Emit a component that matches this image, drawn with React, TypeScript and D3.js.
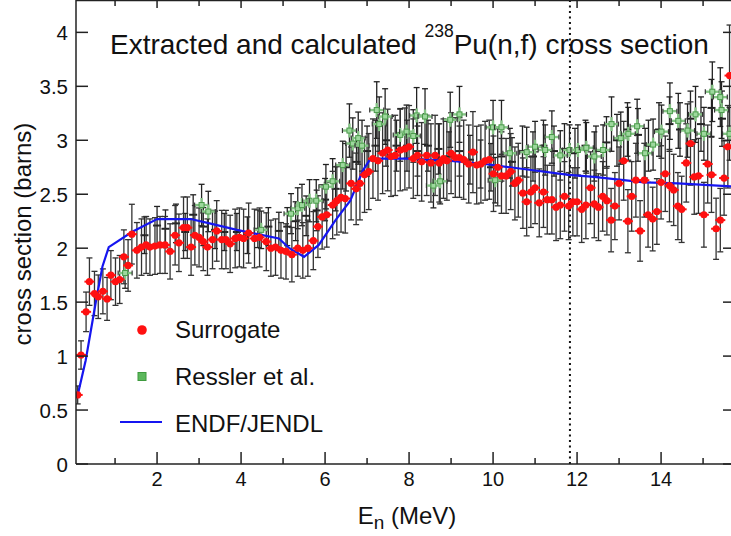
import { scaleLinear, line } from 'd3';

const width = 731;
const height = 536;

// Surrogate (red) points, E in MeV and cross section in barns
const surrogateE = [0.11, 0.19, 0.31, 0.39, 0.51, 0.6, 0.71, 0.81, 0.9, 1.01, 1.11, 1.21, 1.31, 1.4, 1.52, 1.63, 1.74, 1.83, 1.95, 2.07, 2.19, 2.31, 2.43, 2.52, 2.63, 2.72, 2.81, 2.9, 3.0, 3.1, 3.2, 3.32, 3.42, 3.54, 3.64, 3.74, 3.86, 3.96, 4.06, 4.18, 4.32, 4.44, 4.6, 4.71, 4.82, 4.95, 5.07, 5.21, 5.35, 5.47, 5.59, 5.72, 5.83, 5.93, 6.04, 6.18, 6.28, 6.38, 6.48, 6.62, 6.74, 6.83, 6.94, 7.04, 7.14, 7.26, 7.37, 7.49, 7.57, 7.67, 7.79, 7.9, 8.0, 8.1, 8.2, 8.3, 8.42, 8.52, 8.62, 8.72, 8.82, 8.9, 9.0, 9.1, 9.2, 9.3, 9.42, 9.52, 9.61, 9.71, 9.81, 9.91, 10.01, 10.11, 10.2, 10.31, 10.42, 10.52, 10.6, 10.71, 10.8, 10.9, 11.0, 11.1, 11.2, 11.29, 11.4, 11.5, 11.6, 11.7, 11.8, 11.9, 12.0, 12.11, 12.21, 12.32, 12.41, 12.51, 12.61, 12.71, 12.81, 12.9, 13.0, 13.11, 13.21, 13.3, 13.4, 13.5, 13.6, 13.69, 13.8, 13.9, 14.0, 14.1, 14.2, 14.3, 14.4, 14.49, 14.6, 14.7, 14.79, 14.89, 15.02, 15.11, 15.2, 15.31, 15.41, 15.5, 15.59, 15.63];
const surrogateS = [0.64, 1.01, 1.41, 1.69, 1.58, 1.55, 1.6, 1.53, 1.75, 1.69, 1.71, 1.92, 1.84, 2.13, 1.98, 2.01, 2.03, 2.01, 2.02, 2.03, 2.03, 1.97, 2.12, 2.05, 2.19, 2.19, 2.01, 2.12, 2.1, 2.06, 2.01, 2.08, 2.16, 2.08, 2.08, 2.04, 2.09, 2.1, 2.09, 2.14, 2.09, 2.1, 2.06, 2.0, 2.01, 1.98, 1.97, 1.94, 2.0, 1.98, 2.0, 2.07, 2.2, 2.29, 2.31, 2.4, 2.44, 2.47, 2.46, 2.6, 2.55, 2.6, 2.68, 2.71, 2.83, 2.81, 2.88, 2.91, 2.85, 2.86, 2.91, 2.92, 2.94, 2.83, 2.86, 2.8, 2.86, 2.79, 2.86, 2.79, 2.83, 2.81, 2.88, 2.84, 2.84, 2.82, 2.78, 2.89, 2.77, 2.78, 2.81, 2.82, 2.69, 2.75, 2.67, 2.67, 2.71, 2.6, 2.63, 2.51, 2.43, 2.52, 2.56, 2.42, 2.52, 2.45, 2.45, 2.38, 2.4, 2.48, 2.39, 2.43, 2.43, 2.36, 2.4, 2.56, 2.41, 2.38, 2.48, 2.44, 2.26, 2.39, 2.6, 2.81, 2.25, 2.48, 2.63, 2.16, 2.63, 2.31, 2.27, 2.34, 2.61, 2.69, 2.58, 2.54, 2.39, 2.36, 2.79, 2.97, 2.66, 2.67, 2.31, 2.78, 2.68, 2.18, 2.26, 2.65, 2.94, 3.6];
const surrogateRelErr = 0.13;

// Ressler et al. (green) points
const resslerE = [1.24, 3.06, 3.22, 4.48, 5.19, 5.35, 5.45, 5.63, 5.79, 6.02, 6.18, 6.42, 6.58, 6.66, 6.79, 6.88, 7.23, 7.29, 7.43, 7.79, 7.94, 8.1, 8.18, 8.38, 8.58, 8.74, 8.98, 9.2, 10.0, 10.05, 10.2, 10.4, 10.8, 11.0, 11.24, 11.4, 11.6, 11.82, 12.02, 12.22, 12.41, 12.62, 12.82, 13.04, 13.22, 13.43, 13.62, 13.81, 14.01, 14.21, 14.41, 14.63, 14.82, 15.02, 15.22, 15.41, 15.44, 15.63];
const resslerS = [1.77, 2.4, 2.34, 2.17, 2.32, 2.37, 2.4, 2.44, 2.44, 2.57, 2.62, 2.77, 3.09, 2.97, 3.02, 2.95, 3.28, 3.15, 3.22, 3.05, 3.08, 3.04, 3.23, 3.22, 2.58, 2.62, 3.19, 3.24, 3.12, 2.63, 3.12, 2.88, 2.89, 2.94, 2.91, 3.03, 2.86, 2.91, 2.91, 2.93, 2.85, 2.91, 3.15, 3.02, 3.06, 3.13, 2.88, 2.96, 3.08, 3.27, 3.18, 3.09, 3.24, 3.06, 3.45, 3.4, 3.28, 3.06];
const resslerRelErr = 0.08;

// black points (no legend entry)
const blackE = [1.7, 2.0, 2.2, 2.45, 2.67, 2.86, 3.1, 3.38, 3.6, 3.9, 4.15, 4.4, 4.65, 4.9, 5.1, 5.3, 5.55, 5.8, 6.0, 6.25, 6.5, 6.75, 7.0, 7.2, 7.45, 7.7, 7.95, 8.2, 8.45, 8.7, 8.95, 9.2, 9.45, 9.7, 9.95, 10.2, 10.45, 10.7, 10.95, 11.2, 11.45, 11.7, 11.95, 12.2, 12.45, 12.7, 12.95, 13.2, 13.45, 13.7, 13.95, 14.2, 14.45, 14.7, 14.95, 15.2, 15.45];
const blackS = [2.12, 2.21, 2.18, 2.23, 2.15, 2.31, 2.2, 2.17, 2.15, 2.15, 2.12, 2.18, 2.2, 2.16, 2.2, 2.25, 2.3, 2.35, 2.45, 2.55, 2.75, 2.8, 2.9, 2.95, 3.0, 2.95, 2.95, 2.9, 2.95, 2.92, 2.85, 2.9, 2.82, 2.78, 2.75, 2.85, 2.8, 2.9, 2.85, 2.95, 2.9, 2.92, 2.88, 2.95, 2.9, 2.98, 3.0, 3.1, 3.05, 2.95, 3.1, 3.15, 3.1, 3.2, 3.15, 3.3, 3.2];
const blackRelErr = 0.08;

// ENDF/JENDL evaluation (blue line)
const endfE = [0.1, 0.3, 0.55, 0.7, 0.85, 1.4, 2.0, 2.8, 3.25, 3.9, 4.9, 5.15, 5.5, 5.85, 6.25, 6.6, 6.9, 7.05, 7.2, 8.0, 9.0, 9.8, 11.0, 11.8, 12.4, 13.6, 14.4, 15.8];
const endfS = [0.62, 0.96, 1.52, 1.83, 2.01, 2.15, 2.27, 2.27, 2.23, 2.17, 2.09, 2.0, 1.92, 2.03, 2.26, 2.44, 2.72, 2.81, 2.83, 2.83, 2.81, 2.78, 2.72, 2.68, 2.66, 2.61, 2.6, 2.57];

const markerE = 11.83;

const yTicks = [0, 0.5, 1, 1.5, 2, 2.5, 3, 3.5, 4];
const yTickLabels = ['0', '0.5', '1', '1.5', '2', '2.5', '3', '3.5', '4'];
const xMajor = [2, 4, 6, 8, 10, 12, 14];
const xMinor = [1, 3, 5, 7, 9, 11, 13, 15];

const left = 76;
const right = 735;
const top = 0;
const bottom = 464;

const x = scaleLinear().domain([0.07, 15.76]).range([left, right]);
const y = scaleLinear().domain([0, 4.3]).range([bottom, top]);

const endfLine = line<number>()
  .x((d, i) => x(endfE[i]))
  .y((d) => y(d));

const font = 'Liberation Sans, Arial, Helvetica, sans-serif';

const App = () => {
  return (
    <svg width={width} height={height} style={{ display: 'block', position: 'absolute', left: 0, top: 0 }} fontFamily={font}>
      <rect width={width} height={height} fill="white" />
      <defs>
        <clipPath id="plot">
          <rect x={left} y={top} width={right - left} height={bottom - top} />
        </clipPath>
      </defs>

      <g clipPath="url(#plot)">
        {/* dotted marker line */}
        <line x1={x(markerE)} x2={x(markerE)} y1={top} y2={bottom} stroke="#111" strokeWidth={2} strokeDasharray="2,3.5" />

        {/* black error bars */}
        {blackE.map((e, i) => {
          const s = blackS[i];
          const cx = x(e);
          const e1 = y(s + s * blackRelErr);
          const e2 = y(s - s * blackRelErr);
          return (
            <g key={'b' + i} stroke="#222" strokeWidth={1.3}>
              <line x1={cx} x2={cx} y1={e1} y2={e2} />
              <line x1={cx - 3} x2={cx + 3} y1={e1} y2={e1} />
              <line x1={cx - 3} x2={cx + 3} y1={e2} y2={e2} />
              <line x1={cx - 4} x2={cx + 4} y1={y(s)} y2={y(s)} strokeWidth={2} />
            </g>
          );
        })}

        {resslerE.map((e, i) => {
          const s = resslerS[i];
          const cx = x(e);
          const e1 = y(s + s * resslerRelErr);
          const e2 = y(s - s * resslerRelErr);
          return (
            <g key={'re' + i} stroke="#222" strokeWidth={1.3}>
              <line x1={cx} x2={cx} y1={e1} y2={e2} />
              <line x1={cx - 3} x2={cx + 3} y1={e1} y2={e1} />
              <line x1={cx - 3} x2={cx + 3} y1={e2} y2={e2} />
            </g>
          );
        })}

        {surrogateE.map((e, i) => {
          const s = surrogateS[i];
          const cx = x(e);
          const e1 = y(s + s * surrogateRelErr);
          const e2 = y(s - s * surrogateRelErr);
          return (
            <g key={'se' + i} stroke="#333" strokeWidth={1.3}>
              <line x1={cx} x2={cx} y1={e1} y2={e2} />
              <line x1={cx - 3} x2={cx + 3} y1={e1} y2={e1} />
              <line x1={cx - 3} x2={cx + 3} y1={e2} y2={e2} />
            </g>
          );
        })}

        {/* Ressler green crosses */}
        {resslerE.map((e, i) => {
          const cx = x(e);
          const cy = y(resslerS[i]);
          return (
            <g key={'rg' + i} stroke="#86c486" strokeWidth={2.4}>
              <line x1={cx - 7} x2={cx + 7} y1={cy} y2={cy} />
              <line x1={cx} x2={cx} y1={cy - 7} y2={cy + 7} />
              <line x1={cx - 7} x2={cx - 7} y1={cy - 2.5} y2={cy + 2.5} stroke="#333" strokeWidth={1.2} />
              <line x1={cx + 7} x2={cx + 7} y1={cy - 2.5} y2={cy + 2.5} stroke="#333" strokeWidth={1.2} />
              <rect x={cx - 2.5} y={cy - 2.5} width={5} height={5} fill="#9dd89d" stroke="#4a9a4a" strokeWidth={1} />
            </g>
          );
        })}

        <path d={endfLine(endfS) ?? ''} fill="none" stroke="#1515f0" strokeWidth={2.2} />

        {/* Surrogate red dots */}
        {surrogateE.map((e, i) => {
          const cx = x(e);
          const cy = y(surrogateS[i]);
          return (
            <g key={'sd' + i}>
              <line x1={cx - 5} x2={cx + 5} y1={cy} y2={cy} stroke="#ff1010" strokeWidth={2} />
              <circle cx={cx} cy={cy} r={3.6} fill="#ff1010" />
            </g>
          );
        })}
      </g>

      {/* frame */}
      <g stroke="#222" strokeWidth={1.5} fill="none">
        <line x1={left} x2={left} y1={top} y2={bottom} />
        <line x1={right} x2={right} y1={top} y2={bottom} />
        <line x1={left} x2={right} y1={bottom} y2={bottom} />
        <line x1={left} x2={right} y1={top + 0.5} y2={top + 0.5} />
        {yTicks.map((t) => (
          <g key={'yt' + t}>
            <line x1={left} x2={left + 12} y1={y(t)} y2={y(t)} />
            <line x1={right - 12} x2={right} y1={y(t)} y2={y(t)} />
          </g>
        ))}
        {xMajor.map((t) => (
          <g key={'xM' + t}>
            <line x1={x(t)} x2={x(t)} y1={bottom} y2={bottom - 12} />
            <line x1={x(t)} x2={x(t)} y1={top} y2={top + 8} />
          </g>
        ))}
        {xMinor.map((t) => (
          <g key={'xm' + t}>
            <line x1={x(t)} x2={x(t)} y1={bottom} y2={bottom - 6} />
            <line x1={x(t)} x2={x(t)} y1={top} y2={top + 6} />
          </g>
        ))}
      </g>

      {/* tick labels */}
      {yTicks.map((t, i) => (
        <text key={'yl' + t} x={68} y={y(t) + 7.5} fontSize={20.5} textAnchor="end" fill="#111">
          {yTickLabels[i]}
        </text>
      ))}
      {xMajor.map((t) => (
        <text key={'xl' + t} x={x(t)} y={486} fontSize={20} textAnchor="middle" fill="#111">
          {t}
        </text>
      ))}

      {/* axis titles */}
      <text x={407} y={524} fontSize={24} textAnchor="middle" fill="#111">
        E<tspan fontSize={19} dy={5}>n</tspan>
        <tspan dy={-5}> (MeV)</tspan>
      </text>
      <text transform="translate(31,234) rotate(-90)" fontSize={24} textAnchor="middle" fill="#111">
        cross section (barns)
      </text>

      {/* title */}
      <text x={110} y={54} fontSize={28} fill="#111">
        Extracted and calculated <tspan fontSize={17.5} dy={-17}>238</tspan>
        <tspan dy={17}>Pu(n,f) cross section</tspan>
      </text>

      {/* legend */}
      <circle cx={142} cy={330} r={4.8} fill="#ff1010" />
      <text x={175} y={338} fontSize={24} fill="#111">Surrogate</text>
      <rect x={138} y={372.5} width={8} height={8} fill="#5cb85c" stroke="#3e9a3e" strokeWidth={1} />
      <text x={175} y={385} fontSize={24} fill="#111">Ressler et al.</text>
      <line x1={120} x2={162} y1={422} y2={422} stroke="#1515f0" strokeWidth={2.2} />
      <text x={175} y={432} fontSize={24} fill="#111">ENDF/JENDL</text>
    </svg>
  );
};

export default App;
